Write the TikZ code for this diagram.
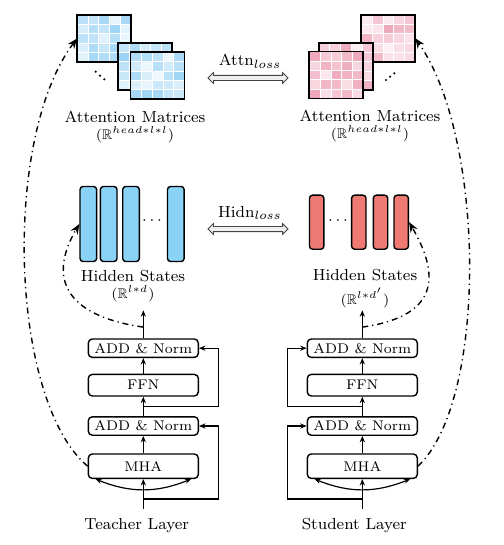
\documentclass[tikz,border=0pt]{standalone}
\usepackage{amssymb}
\usepackage{tikz}
\usetikzlibrary{positioning,arrows.meta,calc,shapes.arrows}
\definecolor{barblue}{HTML}{8AD3F7}
\definecolor{barred}{HTML}{EE7A73}
\definecolor{matblue}{HTML}{6FC0F0}
\definecolor{matpink}{HTML}{E8839F}
\definecolor{inkgray}{HTML}{444444}

% one attention heat map: node name, centre, base colour
\newcommand{\heatmap}[3]{%
  \node[matframe] (#1) at (#2) {};
  \foreach \col in {0,...,4}{%
    \foreach \row in {0,...,4}{%
      \pgfmathrandominteger{\lvl}{10}{70}%
      \fill[#3!\lvl!white, draw=white, line width=0.3pt]
        ([xshift=\col*5.4pt, yshift=-\row*4.7pt]#1.north west) rectangle ++(5.4pt,-4.7pt);
    }%
  }%
  \draw[line width=0.9pt] (#1.north west) rectangle (#1.south east);
}

\begin{document}
\begin{tikzpicture}[
    x=0.5pt, y=-0.5pt,
    font=\footnotesize,
    node distance=8pt,
    layer/.style={rectangle, draw, rounded corners=2pt, line width=0.7pt, minimum width=55pt, inner sep=1pt, font=\scriptsize},
    addnorm/.style={layer, minimum height=9.2pt},
    ffn/.style={layer, minimum height=10.8pt},
    mha/.style={layer, minimum height=12.2pt},
    matframe/.style={rectangle, minimum width=27pt, minimum height=23.5pt, inner sep=0pt, outer sep=0pt},
    tbar/.style={rectangle, draw, rounded corners=1.5pt, line width=0.7pt, fill=barblue, minimum width=8.3pt, minimum height=37.5pt, inner sep=0pt},
    sbar/.style={tbar, fill=barred, minimum width=7.2pt, minimum height=27pt},
    title/.style={inner sep=0.5pt},
    dimlabel/.style={font=\scriptsize, inner sep=0.5pt},
    flow/.style={-{Stealth[length=3.2pt, width=2.6pt]}, line width=0.6pt},
    split/.style={{Stealth[length=3pt, width=2.4pt]}-{Stealth[length=3pt, width=2.4pt]}, line width=0.6pt},
    distill/.style={-{Stealth[length=5pt, width=4pt]}, line width=0.7pt, dash pattern=on 3pt off 2pt on 0.6pt off 2pt},
    lossarrow/.style={double arrow, draw=inkgray, fill=black!6, line width=0.4pt, minimum height=40pt, inner sep=1.1pt, double arrow head extend=1.4pt}
]
\useasboundingbox (0,0) rectangle (503,545);

% --- attention matrices, back to front ---
\pgfmathsetseed{11}
\heatmap{attnT1}{104,38.5}{matblue}
\heatmap{attnT2}{145.3,66.3}{matblue}
\heatmap{attnT3}{157.5,75.7}{matblue}
\heatmap{attnS3}{388.3,38.3}{matpink}
\heatmap{attnS2}{345.7,66.3}{matpink}
\heatmap{attnS1}{336.3,75}{matpink}
\foreach \x/\y in {95.7/71.7, 100/75.7, 104.3/79.3, 386/80, 390/76.7, 394.3/73.3}
  \fill (\x,\y) circle (0.6pt);

\node[title] (attncapT) at (135,117) {Attention Matrices};
\node[dimlabel] (attndimT) at (135,135) {$(\mathbb{R}^{head*l*l})$};
\node[title] (attncapS) at (370,116) {Attention Matrices};
\node[dimlabel] (attndimS) at (370,134) {$(\mathbb{R}^{head*l*l})$};

% --- hidden states ---
\foreach \n/\x in {1/88.3, 2/108.7, 3/131, 4/175.8}
  \node[tbar] (hT\n) at (\x,224) {};
\foreach \n/\x in {1/316.7, 2/358.8, 3/380.5, 4/401.2}
  \node[sbar] (hS\n) at (\x,222.2) {};
\node (hdotsT) at (152,221) {$\cdots$};
\node (hdotsS) at (338,221) {$\cdots$};

\node[title] (hidcapT) at (133,276) {Hidden States};
\node[dimlabel] (hiddimT) at (133,294) {$(\mathbb{R}^{l*d})$};
\node[title] (hidcapS) at (365,275) {Hidden States};
\node[dimlabel] (hiddimS) at (365,298) {$(\mathbb{R}^{l*d'})$};

% --- losses between the two sides ---
\node (attnloss) at (250,61) {Attn$_{loss}$};
\node[lossarrow] (attnarrow) at (248,78) {};
\node (hidnloss) at (250,213) {Hidn$_{loss}$};
\node[lossarrow] (hidnarrow) at (248,229) {};

% --- teacher layer ---
\node[mha] (mhaT) at (143.3,466.2) {MHA};
\node[addnorm, above=8.7pt of mhaT] (addT1) {ADD \& Norm};
\node[ffn, above=9.7pt of addT1] (ffnT) {FFN};
\node[addnorm, above=7.8pt of ffnT] (addT2) {ADD \& Norm};
\coordinate[above=14pt of addT2] (outT);
\coordinate[below=15pt of mhaT] (inT);
\node[below=1pt of inT, xshift=-3.3pt] (teacher) {Teacher Layer};

\draw[flow] (inT) -- (mhaT);
\draw[split] ([xshift=4pt]mhaT.south west) to[bend right=22] ([xshift=-4pt]mhaT.south east);
\draw[flow] (mhaT) -- (addT1);
\draw[flow] (addT1) -- (ffnT);
\draw[flow] (ffnT) -- (addT2);
\draw[flow] (addT2) -- (outT);
\draw[flow] ($(inT)!0.34!(mhaT.south)$) -| ([xshift=9.7pt]addT1.east) -- (addT1.east);
\draw[flow] ($(addT1.north)!0.5!(ffnT.south)$) -| ([xshift=9.7pt]addT2.east) -- (addT2.east);

% --- student layer ---
\node[mha] (mhaS) at (362.3,466.2) {MHA};
\node[addnorm, above=8.7pt of mhaS] (addS1) {ADD \& Norm};
\node[ffn, above=9.7pt of addS1] (ffnS) {FFN};
\node[addnorm, above=7.8pt of ffnS] (addS2) {ADD \& Norm};
\coordinate[above=14pt of addS2] (outS);
\coordinate[below=15pt of mhaS] (inS);
\node[below=1pt of inS, xshift=-4pt] (student) {Student Layer};

\draw[flow] (inS) -- (mhaS);
\draw[split] ([xshift=4pt]mhaS.south west) to[bend right=22] ([xshift=-4pt]mhaS.south east);
\draw[flow] (mhaS) -- (addS1);
\draw[flow] (addS1) -- (ffnS);
\draw[flow] (ffnS) -- (addS2);
\draw[flow] (addS2) -- (outS);
\draw[flow] ($(inS)!0.34!(mhaS.south)$) -| ([xshift=-9.7pt]addS1.west) -- (addS1.west);
\draw[flow] ($(addS1.north)!0.5!(ffnS.south)$) -| ([xshift=-9.7pt]addS2.west) -- (addS2.west);

% --- distillation paths ---
\coordinate (tapT) at ($(addT2.north)!0.4!(outT)$);
\coordinate (tapS) at ($(addS2.north)!0.4!(outS)$);
\draw[distill] (tapT) .. controls +(-70,-10) and +(-35,60) .. (hT1.west);
\draw[distill] (mhaT.west) .. controls +(-78,-66) and +(-75,100) .. (attnT1.west);
\draw[distill] (tapS) .. controls +(70,-10) and +(35,60) .. (hS4.east);
\draw[distill] (mhaS.east) .. controls +(70,-66) and +(70,100) .. (attnS3.east);

\end{tikzpicture}
\end{document}
